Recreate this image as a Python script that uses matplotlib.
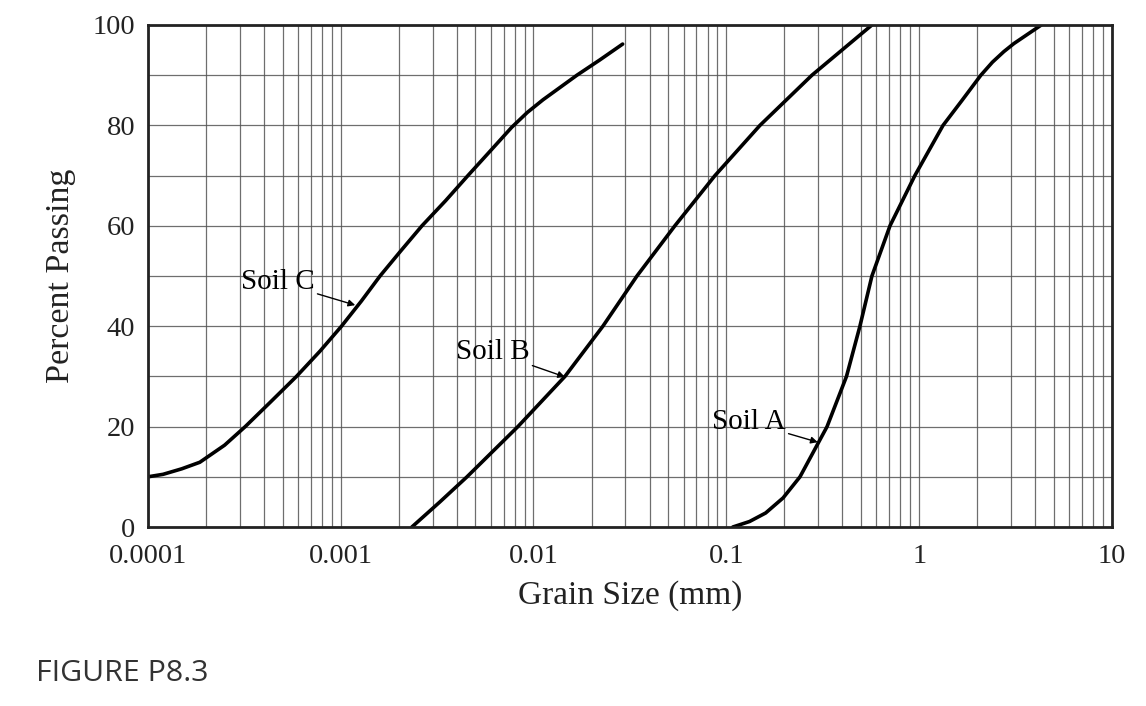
import matplotlib
matplotlib.use("Agg")
import matplotlib.pyplot as plt
from matplotlib.ticker import FixedLocator, NullFormatter

# grain size (mm) and percent passing
soil_a_size = [0.108, 0.132, 0.16, 0.197, 0.241, 0.333, 0.42, 0.493, 0.569, 0.706, 0.95, 1.33, 1.67, 2.09, 2.4, 2.75, 3.1, 3.54, 4.3]
soil_a_pass = [0, 1.1, 2.8, 5.8, 10, 20, 30, 40, 50, 60, 70, 80, 85, 90, 92.6, 94.7, 96.3, 97.8, 100]

soil_b_size = [0.00234, 0.00327, 0.00452, 0.0083, 0.01456, 0.0229, 0.0344, 0.0541, 0.0873, 0.1494, 0.278, 0.569]
soil_b_pass = [0, 5, 10, 20, 30, 40, 50, 60, 70, 80, 90, 100]

soil_c_size = [0.0001, 0.00012, 0.00015, 0.000186, 0.00025, 0.00032, 0.00043, 0.00059, 0.00078, 0.00101,
               0.00128, 0.0016, 0.00205, 0.00264, 0.0035, 0.00457, 0.006, 0.0077, 0.0093, 0.0112, 0.0168, 0.022, 0.029]
soil_c_pass = [10, 10.5, 11.6, 12.9, 16.3, 20, 24.8, 30, 35, 40,
               45, 50, 55, 60, 65, 70, 75, 79.6, 82.6, 85.1, 90, 93, 96.2]

x_ticks = [0.0001, 0.001, 0.01, 0.1, 1, 10]
x_tick_labels = ["0.0001", "0.001", "0.01", "0.1", "1", "10"]
y_ticks = [0, 20, 40, 60, 80, 100]

plt.rcParams['font.family'] = ['Liberation Serif', 'DejaVu Serif']

fig = plt.figure(figsize=(11.46, 7.06), dpi=100)
ax = fig.add_axes([0.129, 0.2535, 0.8413, 0.7111])

for sizes, passing in [(soil_a_size, soil_a_pass), (soil_b_size, soil_b_pass), (soil_c_size, soil_c_pass)]:
    ax.plot(sizes, passing, color='black', lw=2.6, solid_capstyle='round', solid_joinstyle='round')

ax.set_xscale('log')
ax.set_xlim(0.0001, 10)
ax.set_ylim(0, 100)

# log grid: every 1..9 of each decade, and every 10 percent
minor_x = [m * 10.0 ** e for e in range(-4, 1) for m in range(2, 10)]
ax.xaxis.set_major_locator(FixedLocator(x_ticks))
ax.xaxis.set_minor_locator(FixedLocator(minor_x))
ax.xaxis.set_minor_formatter(NullFormatter())
ax.set_xticklabels(x_tick_labels)
ax.set_yticks(y_ticks)
ax.yaxis.set_minor_locator(FixedLocator(list(range(10, 100, 20))))

ax.grid(True, which='both', color='#555555', lw=0.9, alpha=0.85)
ax.tick_params(which='both', length=0)
ax.tick_params(axis='x', labelsize=20.5, pad=12, colors='#222222')
ax.tick_params(axis='y', labelsize=20.5, pad=9, colors='#222222')
for s in ax.spines.values():
    s.set_linewidth(2.0)
    s.set_color('#222222')

ax.set_xlabel('Grain Size (mm)', fontsize=24, color='#222222', labelpad=8)
ax.set_ylabel('Percent Passing', fontsize=24.5, color='#222222', labelpad=12)

arrow = dict(arrowstyle='-|>', color='black', lw=1.0, mutation_scale=10, shrinkA=0, shrinkB=0)
ax.annotate('Soil C', xy=(0.00119, 44.2), xytext=(0.000472, 48.8), fontsize=21,
            ha='center', va='center', arrowprops=arrow)
ax.annotate('Soil B', xy=(0.01456, 29.9), xytext=(0.00615, 34.9), fontsize=21,
            ha='center', va='center', arrowprops=arrow)
ax.annotate('Soil A', xy=(0.298, 16.9), xytext=(0.131, 20.9), fontsize=21,
            ha='center', va='center', arrowprops=arrow)

fig.text(0.031, 0.025, 'FIGURE P8.3', fontsize=21.8, family=['Open Sans', 'DejaVu Sans'],
         color='#333333', ha='left', va='bottom')

fig.savefig('out.png', dpi=100)
